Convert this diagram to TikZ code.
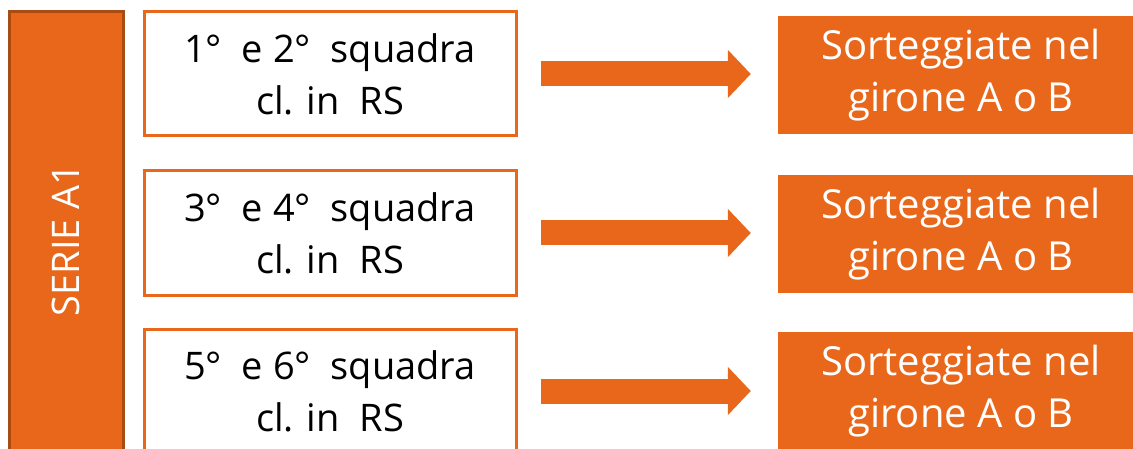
\documentclass[tikz,border=0pt]{standalone}
\usepackage{fontspec}
\setmainfont{Open Sans}
\usetikzlibrary{arrows.meta}
\definecolor{org}{HTML}{E8671A}
\definecolor{orgdark}{HTML}{A94C14}
\begin{document}
\begin{tikzpicture}[x=1pt,y=-1pt,
  txt/.style={font=\fontsize{38}{52}\selectfont, align=center, inner sep=0pt},
  whitebox/.style={txt, draw=org, line width=3pt, fill=white, minimum width=372pt, minimum height=124pt},
  orangebox/.style={txt, font=\fontsize{40}{52}\selectfont, fill=org, text=white, minimum width=366pt, minimum height=118pt},
  bar/.style={txt, draw=orgdark, line width=3pt, fill=org, text=white, minimum width=114pt, minimum height=458pt},
  bigarrow/.style={org, line width=25pt, -{Triangle[length=23pt,width=47pt]}, shorten <=23pt, shorten >=27pt}
]
\useasboundingbox (0,0) rectangle (1133,449);
\clip (0,0) rectangle (1133,449);
\node[bar] (s) at (66,241) {};
\node[txt, text=white, rotate=90] (st) at (66,240) {SERIE A1};
\node[whitebox] (w1) at (330,74) {1°\ \ e 2°\ \ squadra\\cl. in\ \ RS};
\node[whitebox] (w2) at (330,233) {3°\ \ e 4°\ \ squadra\\cl. in\ \ RS};
\node[whitebox] (w3) at (330,391) {5°\ \ e 6°\ \ squadra\\cl. in\ \ RS};
\node[orangebox] (o1) at (961,75) {Sorteggiate nel\\girone A o B};
\node[orangebox] (o2) at (961,234) {Sorteggiate nel\\girone A o B};
\node[orangebox] (o3) at (961,391) {Sorteggiate nel\\girone A o B};
\draw[bigarrow] (w1.east) -- (o1.west |- w1.east);
\draw[bigarrow] (w2.east) -- (o2.west |- w2.east);
\draw[bigarrow] (w3.east) -- (o3.west |- w3.east);
\end{tikzpicture}
\end{document}
